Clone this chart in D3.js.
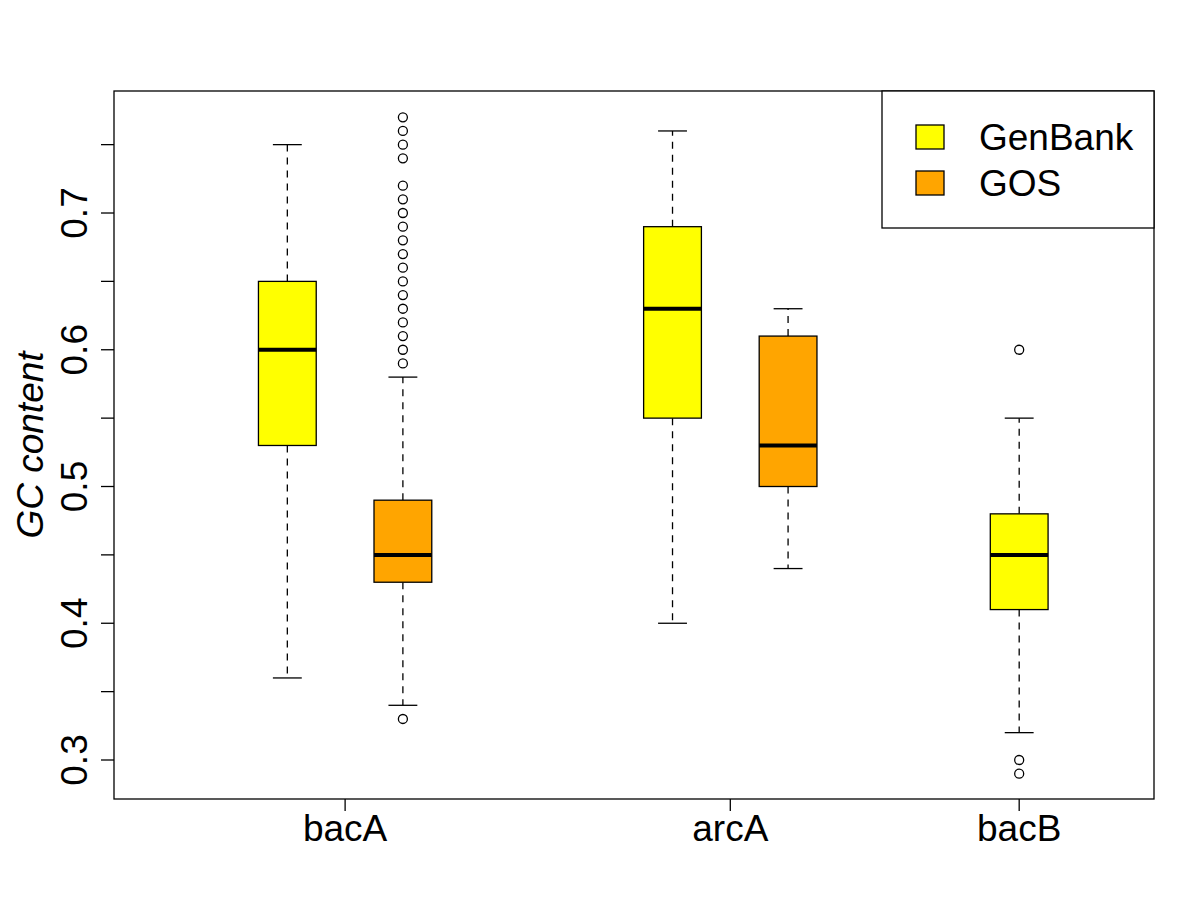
<!DOCTYPE html>
<html>
<head>
<meta charset="utf-8">
<script src="https://cdn.jsdelivr.net/npm/d3@7"></script>
<style>
  html, body { margin: 0; padding: 0; background: #fff; }
  svg { display: block; font-family: "Liberation Sans", Arial, Helvetica, sans-serif; }
</style>
</head>
<body>
<svg id="chart" width="1200" height="914"></svg>
<script>
// ---- data ----
const categories = ["bacA", "arcA", "bacB"];
const seriesNames = ["GenBank", "GOS"];
const seriesColors = ["#FFFF00", "#FFA500"];
// [lower whisker, Q1, median, Q3, upper whisker]
const genbankStats = [
  [0.36, 0.53, 0.60, 0.65, 0.75],
  [0.40, 0.55, 0.63, 0.69, 0.76],
  [0.32, 0.41, 0.45, 0.48, 0.55]
];
const gosStats = [
  [0.34, 0.43, 0.45, 0.49, 0.58],
  [0.44, 0.50, 0.53, 0.61, 0.63],
  null
];
const genbankOutliers = [
  [],
  [],
  [0.60, 0.30, 0.29]
];
const gosOutliers = [
  [0.33, 0.59, 0.60, 0.61, 0.62, 0.63, 0.64, 0.65, 0.66, 0.67, 0.68, 0.69, 0.70, 0.71, 0.72, 0.74, 0.75, 0.76, 0.77],
  [],
  []
];
const yTicks = [0.30, 0.35, 0.40, 0.45, 0.50, 0.55, 0.60, 0.65, 0.70, 0.75];
const yTickLabels = ["0.3", "0.4", "0.5", "0.6", "0.7"];
const yLabel = "GC content";

// ---- layout ----
const plot = { left: 114, right: 1154, top: 91, bottom: 799 };
const categoryPos = [1, 2, 2.75];
const pairOffset = 0.15;
const halfBox = 0.075;

const svg = d3.select("#chart");
const x = d3.scaleLinear().domain([0.4, 3.1]).range([plot.left, plot.right]);
const y = d3.scaleLinear().domain([0.27148, 0.78922]).range([plot.bottom, plot.top]);

// build boxes
const boxes = [];
categories.forEach((c, i) => {
  const hasPair = gosStats[i] !== null;
  const stats = [genbankStats[i], gosStats[i]];
  const outs = [genbankOutliers[i], gosOutliers[i]];
  stats.forEach((s, k) => {
    if (!s) return;
    const pos = hasPair ? categoryPos[i] + (k === 0 ? -pairOffset : pairOffset) : categoryPos[i];
    boxes.push({ pos, s, out: outs[k], color: seriesColors[k] });
  });
});

const g = svg.append("g");
boxes.forEach(b => {
  const cx = x(b.pos);
  const w = x(b.pos + halfBox) - cx;
  const [lo, q1, med, q3, hi] = b.s;
  // whiskers (dashed)
  g.append("line").attr("x1", cx).attr("x2", cx).attr("y1", y(q3)).attr("y2", y(hi))
    .attr("stroke", "#000").attr("stroke-width", 1.3).attr("stroke-dasharray", "7,6");
  g.append("line").attr("x1", cx).attr("x2", cx).attr("y1", y(q1)).attr("y2", y(lo))
    .attr("stroke", "#000").attr("stroke-width", 1.3).attr("stroke-dasharray", "7,6");
  // staples
  [lo, hi].forEach(v => {
    g.append("line").attr("x1", cx - w / 2).attr("x2", cx + w / 2).attr("y1", y(v)).attr("y2", y(v))
      .attr("stroke", "#000").attr("stroke-width", 1.3);
  });
  // box
  g.append("rect").attr("x", cx - w).attr("y", y(q3)).attr("width", 2 * w).attr("height", y(q1) - y(q3))
    .attr("fill", b.color).attr("stroke", "#000").attr("stroke-width", 1.3);
  // median
  g.append("line").attr("x1", cx - w).attr("x2", cx + w).attr("y1", y(med)).attr("y2", y(med))
    .attr("stroke", "#000").attr("stroke-width", 4);
  // outliers
  b.out.forEach(v => {
    g.append("circle").attr("cx", cx).attr("cy", y(v)).attr("r", 4.5)
      .attr("fill", "none").attr("stroke", "#000").attr("stroke-width", 1.3);
  });
});

// frame
svg.append("rect").attr("x", plot.left).attr("y", plot.top)
  .attr("width", plot.right - plot.left).attr("height", plot.bottom - plot.top)
  .attr("fill", "none").attr("stroke", "#000").attr("stroke-width", 1.3);

// y axis ticks
const yAxis = svg.append("g");
yTicks.forEach(t => {
  yAxis.append("line").attr("x1", plot.left - 13).attr("x2", plot.left).attr("y1", y(t)).attr("y2", y(t))
    .attr("stroke", "#000").attr("stroke-width", 1.3);
});
yTickLabels.forEach(lbl => {
  const v = +lbl;
  yAxis.append("text").attr("transform", `translate(87,${y(v)}) rotate(-90)`)
    .attr("text-anchor", "middle").attr("font-size", 37).text(lbl);
});
svg.append("text").attr("transform", `translate(43,${(plot.top + plot.bottom) / 2}) rotate(-90)`)
  .attr("text-anchor", "middle").attr("font-size", 37).attr("font-style", "italic").text(yLabel);

// x axis
categories.forEach((c, i) => {
  const px = x(categoryPos[i]);
  svg.append("line").attr("x1", px).attr("x2", px).attr("y1", plot.bottom).attr("y2", plot.bottom + 12)
    .attr("stroke", "#000").attr("stroke-width", 1.3);
  svg.append("text").attr("x", px).attr("y", 841).attr("text-anchor", "middle")
    .attr("font-size", 37).text(c);
});

// legend
const lg = svg.append("g");
lg.append("rect").attr("x", 882).attr("y", plot.top).attr("width", plot.right - 882).attr("height", 137)
  .attr("fill", "#fff").attr("stroke", "#000").attr("stroke-width", 1.3);
seriesNames.forEach((name, i) => {
  const cy = 137 + i * 46;
  lg.append("rect").attr("x", 916).attr("y", cy - 12).attr("width", 28).attr("height", 24)
    .attr("fill", seriesColors[i]).attr("stroke", "#000").attr("stroke-width", 1.3);
  lg.append("text").attr("x", 979).attr("y", cy + 13).attr("font-size", 37).text(name);
});
</script>
</body>
</html>
